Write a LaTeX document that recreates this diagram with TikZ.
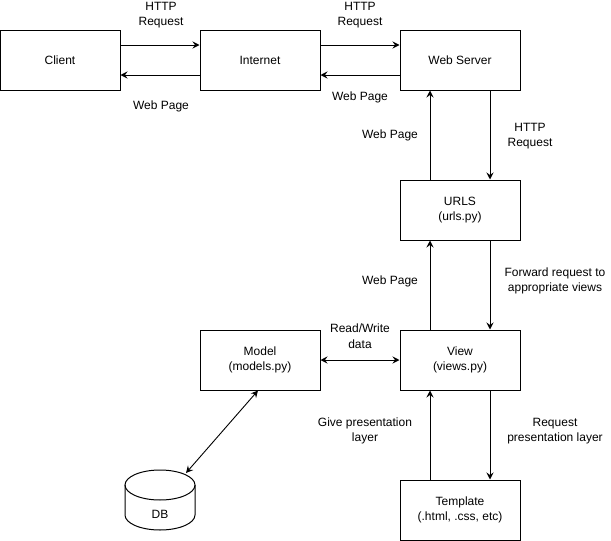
\documentclass[tikz,border=0pt]{standalone}
\usepackage{fontspec}
\setmainfont{Liberation Sans}
\usetikzlibrary{arrows.meta}

\begin{document}
\begin{tikzpicture}[x=1pt,y=-1pt,
  box/.style={draw, line width=1pt, minimum width=120pt, minimum height=60pt,
    inner sep=0pt, align=center, font=\fontsize{12}{15}\selectfont},
  lbl/.style={align=center, inner sep=0pt, font=\fontsize{12}{15.5}\selectfont},
  tip/.tip={Stealth[length=7pt,width=7pt,inset=2.5pt]},
  conn/.style={line width=1pt, -tip},
  both/.style={line width=0.9pt, tip-tip},
]
\useasboundingbox (0,0) rectangle (611,541);

% request path boxes
\node[box] (client) at (60,60) {Client};
\node[box] (internet) at (260,60) {Internet};
\node[box] (server) at (460,60) {Web Server};
\node[box] (urls) at (460,210) {URLS\\(urls.py)};
\node[box] (view) at (460,360) {View\\(views.py)};
\node[box] (model) at (260,360) {Model\\(models.py)};
\node[box] (template) at (460,510) {Template\\(.html, .css, etc)};

% database cylinder
\draw[line width=1pt] (160,485) ellipse [x radius=35, y radius=15];
\draw[line width=1pt] (125,485) -- (125,515)
  arc[start angle=180, end angle=0, x radius=35, y radius=15] -- (195,485);
\node[lbl] (db) at (160,514) {DB};
\coordinate (dbport) at (186,473);

% client <-> internet <-> web server
\draw[conn] ([yshift=15pt]client.east) -- ([yshift=15pt]internet.west);
\draw[conn] ([yshift=-15pt]internet.west) -- ([yshift=-15pt]client.east);
\draw[conn] ([yshift=15pt]internet.east) -- ([yshift=15pt]server.west);
\draw[conn] ([yshift=-15pt]server.west) -- ([yshift=-15pt]internet.east);

% web server <-> urls
\draw[conn] ([xshift=30pt]server.south) -- ([xshift=30pt]urls.north);
\draw[conn] ([xshift=-30pt]urls.north) -- ([xshift=-30pt]server.south);

% urls <-> view
\draw[conn] ([xshift=30pt]urls.south) -- ([xshift=30pt]view.north);
\draw[conn] ([xshift=-30pt]view.north) -- ([xshift=-30pt]urls.south);

% view <-> template
\draw[conn] ([xshift=30pt]view.south) -- ([xshift=30pt]template.north);
\draw[conn] ([xshift=-30pt]template.north) -- ([xshift=-30pt]view.south);

% model <-> view, db <-> model
\draw[conn, tip-tip] (model.east) -- (view.west);
\draw[both] (dbport) -- ([xshift=-2pt]model.south);

% labels
\node[lbl] (l1) at (161,15) {HTTP\\Request};
\node[lbl] (l2) at (161,106) {Web Page};
\node[lbl] (l3) at (360,15) {HTTP\\Request};
\node[lbl] (l4) at (360,97) {Web Page};
\node[lbl] (l5) at (390,135) {Web Page};
\node[lbl] (l6) at (530,136) {HTTP\\Request};
\node[lbl] (l7) at (390,281) {Web Page};
\node[lbl] (l8) at (555,281) {Forward request to\\appropriate views};
\node[lbl] (l9) at (360,336) {Read/Write\\data};
\node[lbl] (l10) at (365,431) {Give presentation\\layer};
\node[lbl] (l11) at (555,431) {Request\\presentation layer};
\end{tikzpicture}
\end{document}
